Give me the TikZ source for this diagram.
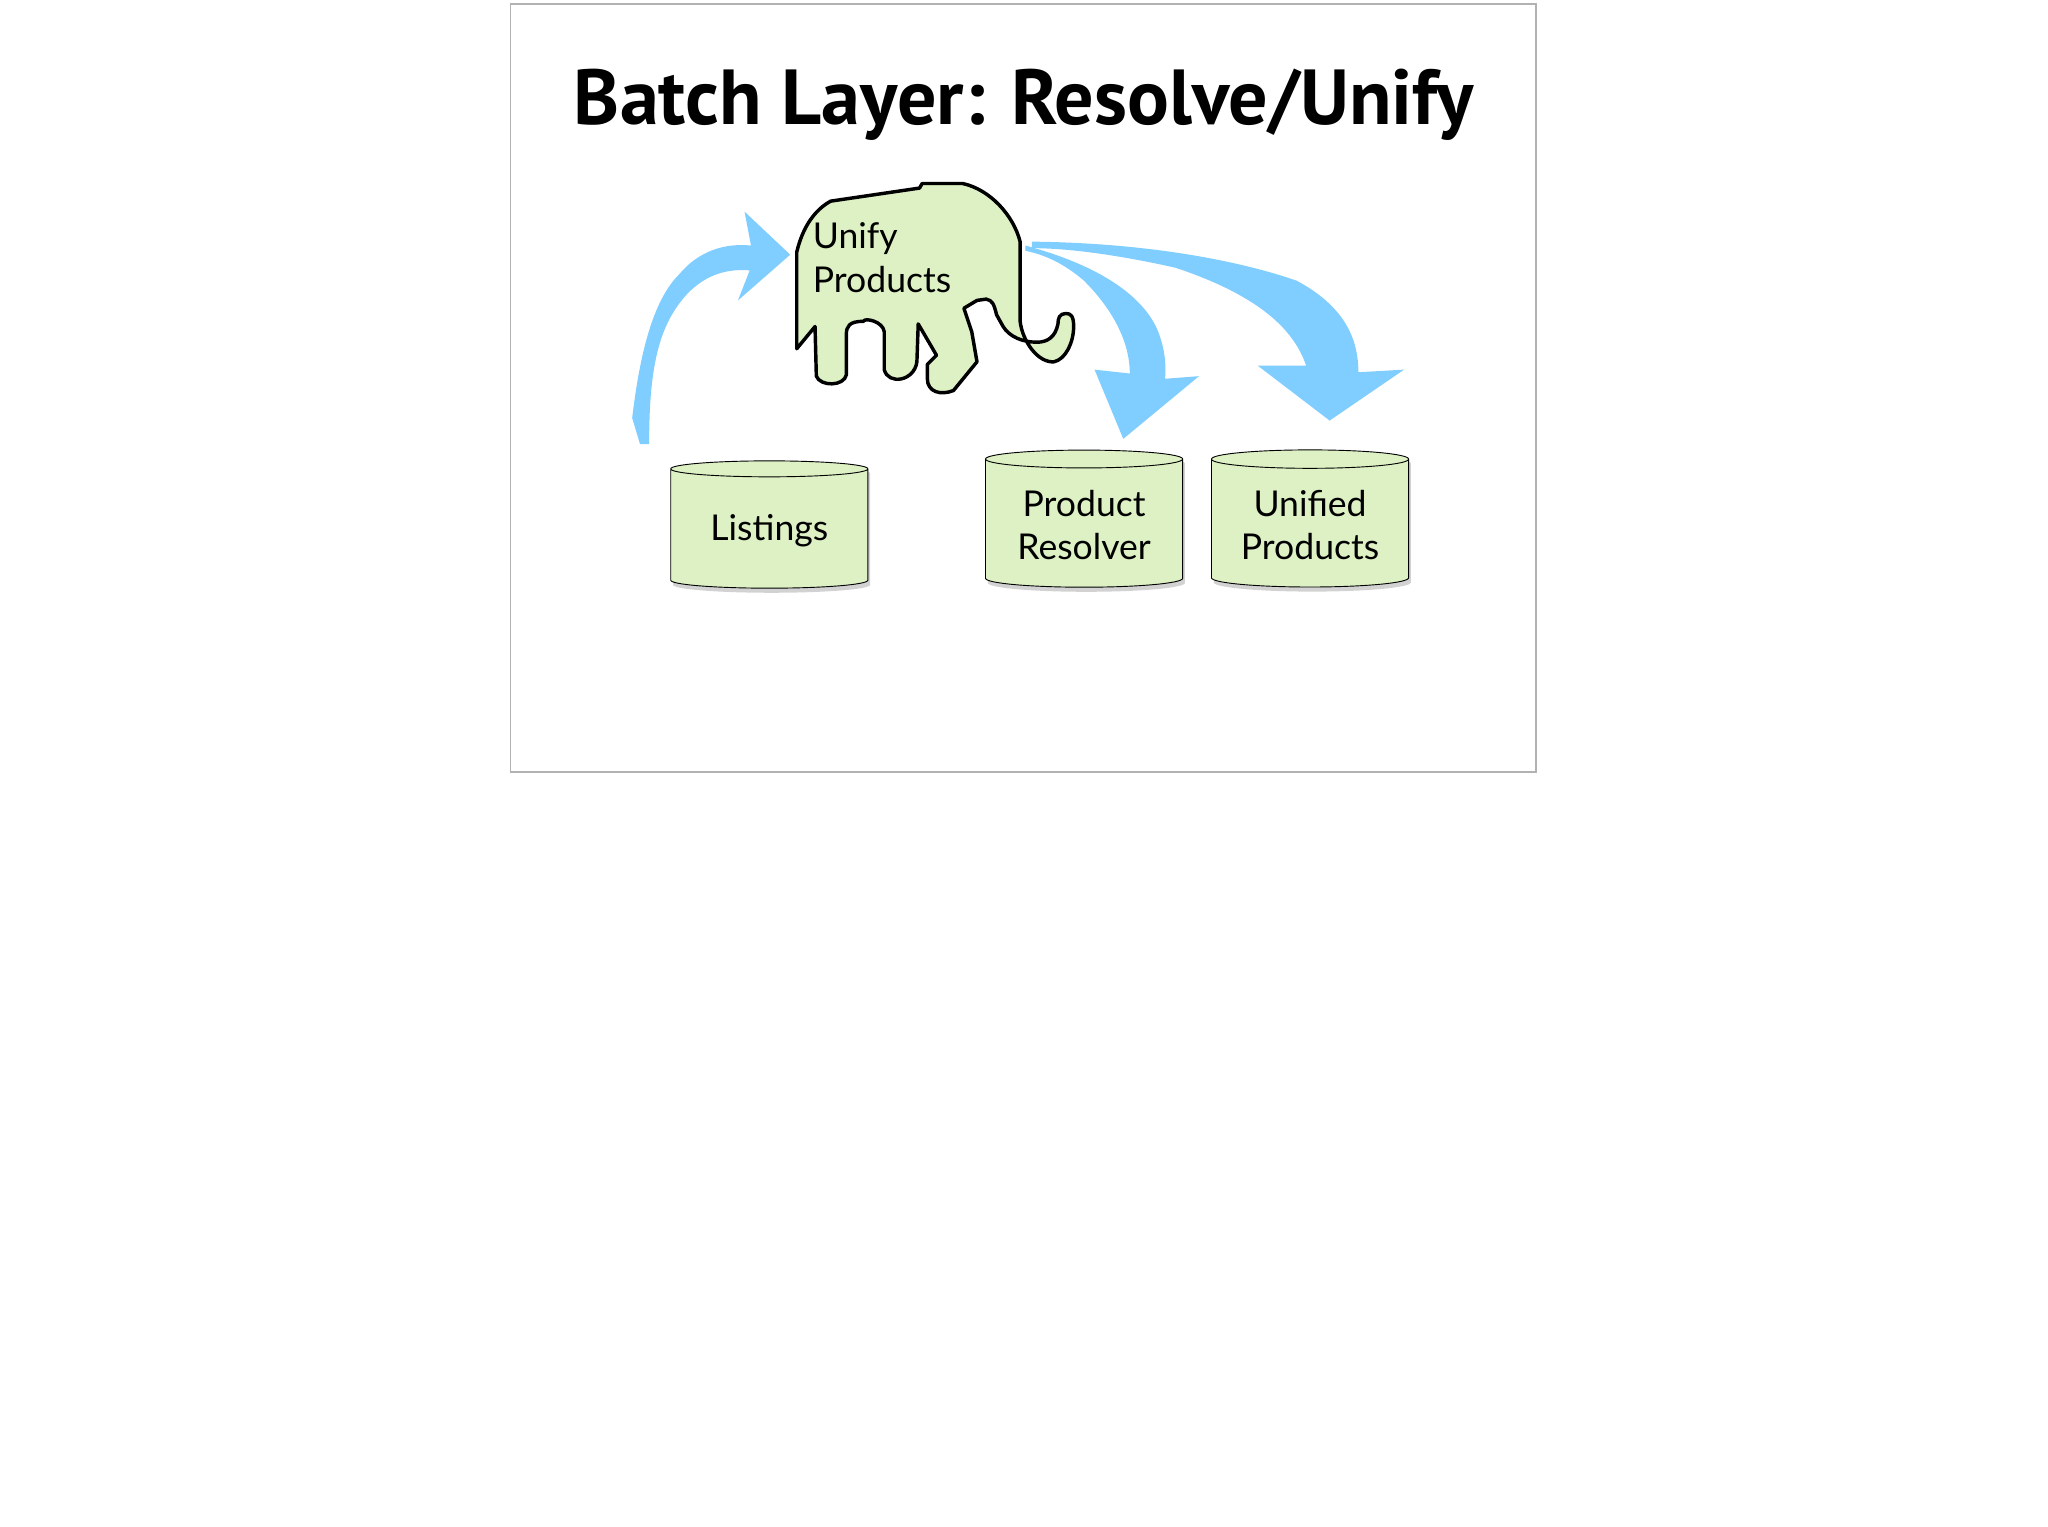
\documentclass[tikz,border=0pt]{standalone}
\usepackage{fontspec}
\setmainfont{PT Sans}
\newfontfamily\lab{Lato}
\definecolor{gfill}{RGB}{221,241,196}
\definecolor{arr}{RGB}{128,206,255}
\usetikzlibrary{shapes.geometric,shadows}
\begin{document}
\begin{tikzpicture}[x=0.02cm,y=-0.02cm,
  db/.style={cylinder,shape border rotate=90,aspect=0.12,draw=black,fill=gfill,minimum width=3.02cm,align=center,font=\lab\fontsize{15.5}{19}\selectfont,drop shadow={opacity=0.35,shadow xshift=1pt,shadow yshift=-2pt}},
  ar/.style={fill=arr,draw=none}]
\useasboundingbox (0,0) rectangle (1568,1169);
\fill[white] (0,0) rectangle (1568,1169);
\draw[gray!60,line width=0.6pt] (391,3) rectangle (1176,591);
\node[font=\bfseries\fontsize{34}{40}\selectfont] (title) at (784,80) {Batch Layer: Resolve/Unify};
% arrows
\fill[ar] (490,340) -- (484,320) .. controls (490,270) and (500,230) .. (520,210) .. controls (535,192) and (555,186) .. (575,188) -- (570,162) -- (605,195) -- (565,230) -- (574,207) .. controls (550,205) and (530,215) .. (515,240) .. controls (500,265) and (497,300) .. (497,340) -- cycle;
\fill[ar] (785,188) .. controls (830,200) and (870,220) .. (885,250) .. controls (892,265) and (893,280) .. (892,290) -- (918,288) -- (860,336) -- (838,283) -- (865,286) .. controls (865,260) and (850,235) .. (830,215) .. controls (815,202) and (800,195) .. (785,192) -- cycle;
\fill[ar] (790,185) .. controls (880,186) and (950,200) .. (993,215) .. controls (1030,235) and (1040,260) .. (1040,285) -- (1075,283) -- (1018,322) -- (963,280) -- (1000,280) .. controls (990,250) and (960,225) .. (900,205) .. controls (860,196) and (820,190) .. (790,190) -- cycle;
% elephant
\draw[fill=gfill,line width=1.5pt,line join=round] (610,193) .. controls (615,172) and (625,160) .. (636,154) -- (704,144) -- (706,140.5) -- (737,140.5) .. controls (758,145) and (776,165) .. (781,185)
 -- (781,246) .. controls (783,262) and (795,278) .. (807,277) .. controls (816,275) and (822,262) .. (822,250) .. controls (822,242) and (820,240) .. (816,240) .. controls (811,240) and (810,244) .. (810,248) .. controls (808,258) and (802,262) .. (794,262) .. controls (783,262) and (773,258) .. (768,250) -- (763,241) .. controls (761,233) and (760,230) .. (755,229) -- (748,230) -- (738,236) -- (744,254) -- (748,277) -- (730,299) .. controls (720,303) and (710,300) .. (710,290) -- (710,279) -- (717,272) -- (703,248) -- (702,277) .. controls (700,292) and (680,295) .. (677,283) -- (677,254) .. controls (676,246) and (662,243) .. (661,246) .. controls (650,246) and (648,250) .. (648,256) -- (648,287) .. controls (646,296) and (628,296) .. (625,288) -- (624,250) -- (610,267) -- cycle;
\node[font=\lab\fontsize{15.5}{19}\selectfont,align=left,anchor=north west,inner sep=0pt] (unify) at (622,170) {Unify\\Products};
\node[db,minimum height=1.95cm] (list) at (589,406) {Listings};
\node[db,minimum height=2.1cm] (res) at (830,402) {Product\\Resolver};
\node[db,minimum height=2.1cm] (uni) at (1003,402) {Unified\\Products};
\end{tikzpicture}
\end{document}
